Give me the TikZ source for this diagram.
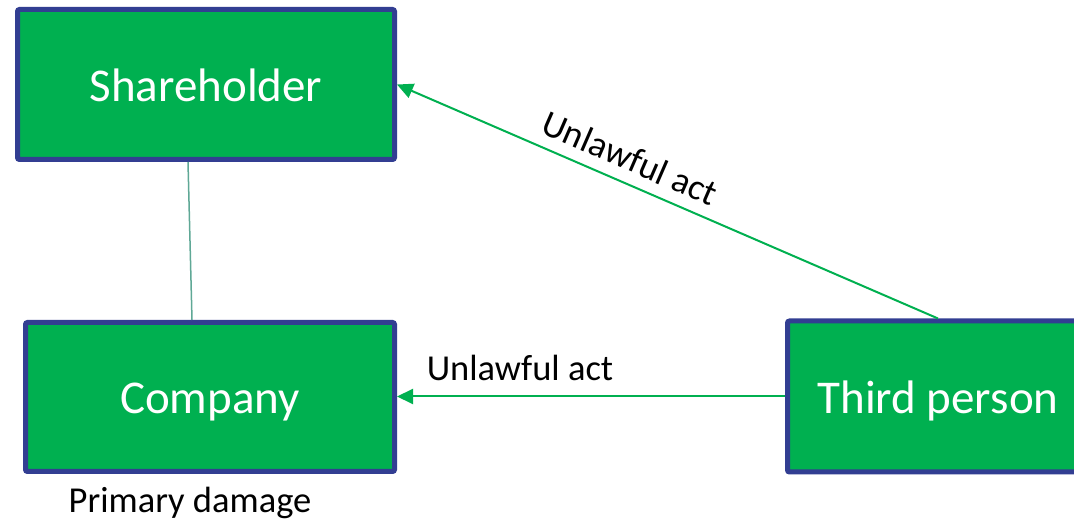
\documentclass[tikz,border=0pt]{standalone}
\usepackage{fontspec}
\setmainfont{Carlito}
\usetikzlibrary{arrows.meta}
\definecolor{boxgreen}{HTML}{00B050}
\definecolor{boxrim}{RGB}{50,62,146}
\definecolor{linkteal}{RGB}{95,168,150}
\begin{document}
\begin{tikzpicture}[x=1pt,y=1pt,
  party/.style={draw=boxrim, line width=5pt, fill=boxgreen, rounded corners=2pt,
    text=white, font=\fontsize{47}{56}\selectfont, inner sep=0pt,
    text height=34pt, text depth=0pt},
  act/.style={draw=boxgreen, line width=2pt,
    -{Triangle[length=16pt,width=15pt]}},
  lbl/.style={font=\fontsize{36.5}{44}\selectfont, text=black, inner sep=0pt}]
\clip (0,0) rectangle (1074,522);
\fill[white] (0,0) rectangle (1074,522);
% parties
\node[party, minimum width=377pt, minimum height=150pt] (sh) at (206,437.5) {Shareholder};
\node[party, minimum width=369pt, minimum height=149pt] (co) at (210,125) {Company};
\node[party, minimum width=301pt, minimum height=151pt] (tp) at (938,125.5) {Third person};
% link between shareholder and company
\draw[linkteal, line width=1.5pt] ([xshift=-18pt]sh.south) -- ([xshift=-18pt]co.north);
% unlawful acts
\draw[act] (tp.north) -- (sh.east);
\draw[act] (tp.west) -- (co.east |- tp.west);
\node[lbl, rotate=-23.5] (ua1) at (630,364) {Unlawful act};
\node[lbl] (ua2) at (520,154) {Unlawful act};
\node[lbl] (pd) at (190,19) {Primary damage};
\end{tikzpicture}
\end{document}
